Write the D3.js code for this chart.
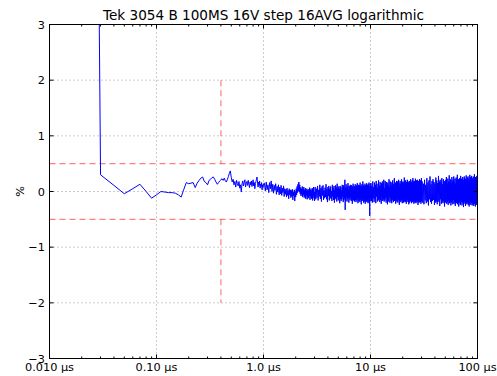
<!DOCTYPE html>
<html>
<head>
<meta charset="utf-8">
<script src="https://cdn.jsdelivr.net/npm/d3@7"></script>
<style>
  body { margin: 0; background: #fff; }
  text { font-family: "DejaVu Sans", sans-serif; fill: #000; }
</style>
</head>
<body>
<div id="chart"></div>
<script>
segStart = [0.02, 1.02, 3.04, 10.1, 30.4];
segStep = [0.01, 0.02, 0.04, 0.1, 0.4];

// 0.02 .. 1.00 µs
segA = [40, 0.30, 0.11, -0.04, 0.05, 0.13, 0.00, -0.12, -0.06, 0.00,
    -0.01, -0.02, -0.02, -0.03, -0.06, -0.10, 0.04, 0.16, 0.14, 0.15,
    0.16, 0.07, 0.15, 0.20, 0.24, 0.26, 0.18, 0.16, 0.12, 0.20,
    0.22, 0.25, 0.26, 0.22, 0.17, 0.13, 0.16, 0.19, 0.21, 0.23,
    0.20, 0.24, 0.19, 0.17, 0.22, 0.27, 0.33, 0.37, 0.25, 0.17,
    0.22, 0.12, 0.18, 0.08, 0.20, 0.14, 0.10, 0.18, 0.06, 0.12,
    -0.01, 0.14, 0.19, 0.10, 0.16, 0.21, 0.08, 0.15, 0.18, 0.11,
    0.20, 0.13, 0.07, 0.17, 0.12, 0.19, 0.09, 0.15, 0.21, 0.10,
    0.16, 0.05, 0.14, 0.18, 0.22, 0.26, 0.15, 0.08, 0.17, 0.11,
    0.19, 0.06, 0.13, 0.09, 0.16, 0.03, 0.12, 0.07, 0.14];

// 1.02 .. 3.00 µs
segB = [0.15, 0.01, 0.17, 0.03, 0.12, -0.02, 0.16, 0.05, 0.19, 0.00,
    0.13, -0.03, 0.11, 0.02, 0.14, -0.05, 0.09, -0.01, 0.12, -0.06,
    0.08, -0.04, 0.11, -0.07, 0.06, -0.02, 0.10, -0.09, 0.05, -0.05,
    0.04, -0.10, 0.06, -0.07, 0.02, -0.13, 0.05, -0.06, 0.03, -0.11,
    0.02, -0.09, 0.04, -0.15, -0.01, -0.08, 0.03, -0.17, 0.00, -0.10,
    0.05, -0.06, 0.09, -0.02, 0.13, 0.01, 0.17, -0.01, 0.12, -0.04,
    0.07, -0.08, 0.05, -0.05, 0.09, -0.10, 0.04, -0.06, 0.08, -0.11,
    0.03, -0.09, 0.06, -0.13, 0.01, -0.07, 0.05, -0.14, 0.02, -0.10,
    0.04, -0.12, 0.00, -0.08, 0.07, -0.15, 0.02, -0.09, 0.05, -0.13,
    0.01, -0.11, 0.06, -0.16, 0.03, -0.08, 0.08, -0.12, -0.01, -0.17];

// 3.04 .. 10.00 µs
segC = [0.08, -0.14, 0.05, -0.11, 0.10, -0.16, 0.03, -0.09, 0.12, -0.13,
    0.06, -0.18, 0.09, -0.07, 0.11, -0.15, 0.02, -0.12, 0.07, -0.10,
    0.13, -0.14, 0.04, -0.19, 0.08, -0.08, 0.10, -0.16, 0.05, -0.11,
    0.09, -0.13, 0.01, -0.17, 0.12, -0.09, 0.06, -0.15, 0.10, -0.20,
    0.03, -0.12, 0.11, -0.14, 0.07, -0.18, 0.14, -0.10, 0.04, -0.16,
    0.09, -0.11, 0.05, -0.21, 0.10, -0.13, 0.08, -0.17, 0.02, -0.14,
    0.12, -0.09, 0.06, -0.19, 0.11, -0.15, 0.04, -0.12, 0.21, -0.33,
    0.08, -0.16, 0.13, -0.10, 0.05, -0.18, 0.09, -0.13, 0.15, -0.11,
    0.03, -0.20, 0.10, -0.12, 0.07, -0.15, 0.12, -0.09, 0.04, -0.17,
    0.11, -0.14, 0.06, -0.22, 0.09, -0.11, 0.14, -0.16, 0.02, -0.13,
    0.10, -0.18, 0.07, -0.10, 0.13, -0.15, 0.05, -0.19, 0.11, -0.12,
    0.08, -0.16, 0.15, -0.13, 0.04, -0.21, 0.09, -0.11, 0.12, -0.17,
    0.06, -0.14, 0.11, -0.19, 0.16, -0.10, 0.03, -0.15, 0.10, -0.23,
    0.07, -0.12, 0.13, -0.17, 0.05, -0.14, 0.18, -0.11, 0.09, -0.20,
    0.12, -0.15, 0.04, -0.18, 0.10, -0.13, 0.14, -0.22, 0.06, -0.10,
    0.11, -0.17, 0.08, -0.12, 0.15, -0.19, 0.07, -0.14, 0.12, -0.16,
    0.05, -0.21, 0.13, -0.11, 0.09, -0.18, 0.16, -0.13, 0.03, -0.15,
    -0.44, 0.10, -0.17, 0.14, -0.12];

// 10.1 .. 30.0 µs
segD = [0.15, -0.17, 0.10, -0.20, 0.18, -0.12, 0.08, -0.19, 0.16, -0.14,
    0.12, -0.21, 0.19, -0.09, 0.14, -0.18, 0.07, -0.16, 0.20, -0.13,
    0.11, -0.19, 0.17, -0.15, 0.09, -0.22, 0.15, -0.10, 0.18, -0.17,
    0.13, -0.14, 0.21, -0.18, 0.06, -0.16, 0.19, -0.12, 0.14, -0.20,
    0.17, -0.11, 0.10, -0.23, 0.16, -0.15, 0.12, -0.18, 0.22, -0.09,
    0.08, -0.20, 0.18, -0.13, 0.15, -0.17, 0.11, -0.21, 0.17, -0.14,
    0.20, -0.16, 0.09, -0.19, 0.14, -0.11, 0.24, -0.17, 0.12, -0.15,
    0.16, -0.22, 0.13, -0.10, 0.19, -0.18, 0.07, -0.14, 0.18, -0.20,
    0.11, -0.16, 0.21, -0.13, 0.15, -0.24, 0.10, -0.17, 0.19, -0.12,
    0.14, -0.19, 0.08, -0.15, 0.22, -0.16, 0.13, -0.21, 0.17, -0.11,
    0.18, -0.14, 0.12, -0.20, 0.16, -0.17, 0.25, -0.13, 0.09, -0.19,
    0.15, -0.18, 0.20, -0.12, 0.11, -0.22, 0.17, -0.15, 0.13, -0.16,
    0.21, -0.11, 0.14, -0.19, 0.18, -0.14, 0.10, -0.23, 0.16, -0.17,
    0.12, -0.20, 0.19, -0.16, 0.15, -0.12, 0.22, -0.18, 0.08, -0.15,
    0.17, -0.21, 0.13, -0.14, 0.20, -0.19, 0.11, -0.16, 0.24, -0.13,
    0.14, -0.17, 0.18, -0.22, 0.12, -0.15, 0.19, -0.11, 0.16, -0.20,
    0.10, -0.18, 0.23, -0.14, 0.15, -0.21, 0.13, -0.16, 0.20, -0.12,
    0.18, -0.19, 0.11, -0.17, 0.21, -0.13, 0.16, -0.24, 0.14, -0.15,
    0.19, -0.16, 0.12, -0.20, 0.17, -0.14, 0.22, -0.18, 0.09, -0.19,
    0.15, -0.13, 0.20, -0.17, 0.13, -0.22, 0.18, -0.15, 0.24, -0.18];

// 30.4 .. 100.0 µs
segE = [0.18, -0.20, 0.14, -0.23, 0.21, -0.16, 0.12, -0.21, 0.24, -0.18,
    0.16, -0.25, 0.20, -0.14, 0.27, -0.19, 0.13, -0.22, 0.19, -0.17,
    0.22, -0.15, 0.17, -0.24, 0.14, -0.20, 0.25, -0.18, 0.20, -0.23,
    0.15, -0.19, 0.28, -0.16, 0.18, -0.26, 0.21, -0.14, 0.17, -0.22,
    0.24, -0.18, 0.13, -0.21, 0.22, -0.17, 0.19, -0.27, 0.16, -0.20,
    0.21, -0.15, 0.26, -0.22, 0.14, -0.19, 0.23, -0.24, 0.18, -0.16,
    0.29, -0.21, 0.17, -0.18, 0.22, -0.25, 0.15, -0.20, 0.26, -0.17,
    0.19, -0.23, 0.21, -0.15, 0.27, -0.22, 0.16, -0.19, 0.23, -0.26,
    0.14, -0.18, 0.25, -0.21, 0.20, -0.16, 0.30, -0.23, 0.17, -0.20,
    0.22, -0.27, 0.18, -0.17, 0.24, -0.21, 0.15, -0.24, 0.28, -0.19,
    0.20, -0.16, 0.23, -0.25, 0.17, -0.20, 0.26, -0.18, 0.21, -0.28,
    0.16, -0.22, 0.27, -0.19, 0.24, -0.17, 0.19, -0.26, 0.22, -0.21,
    0.29, -0.18, 0.18, -0.23, 0.25, -0.20, 0.21, -0.16, 0.27, -0.24,
    0.17, -0.21, 0.23, -0.27, 0.20, -0.18, 0.30, -0.22, 0.19, -0.19,
    0.26, -0.24, 0.16, -0.20, 0.28, -0.17, 0.22, -0.25, 0.24, -0.21,
    0.19, -0.18, 0.27, -0.23, 0.21, -0.26, 0.18, -0.20, 0.31, -0.22,
    0.23, -0.19, 0.20, -0.27, 0.26, -0.21, 0.17, -0.24, 0.25, -0.18,
    0.28, -0.23, 0.22, -0.20, 0.26];

segValues = [segA, segB, segC, segD, segE];

// Limit lines (red dashed)
limitLevels = [0.5, -0.5];
markerT = 0.4;
markerSpans = [[0.5, 2], [-2, -0.5]];

xTicks = [0.01, 0.1, 1, 10, 100];
xTickLabels = ["0.010 µs", "0.10 µs", "1.0 µs", "10 µs", "100 µs"];
yTicks = [-3, -2, -1, 0, 1, 2, 3];

titleText = "Tek 3054 B 100MS 16V step 16AVG logarithmic";

width = 497;
height = 376;
margin = ({top: 24.5, right: 19.5, bottom: 17.5, left: 49.5});

buildTrace = function() {
    const pts = [];
    segValues.forEach((vals, s) => {
        vals.forEach((v, i) => {
            pts.push({t: +(segStart[s] + i * segStep[s]).toFixed(4), v: v});
        });
    });
    return pts;
};

createBoard = function(selector) {
    const svg = d3.select(selector).append("svg")
        .attr("width", width)
        .attr("height", height);

    const x = d3.scaleLog()
        .domain([0.01, 100])
        .range([margin.left, width - margin.right]);
    const y = d3.scaleLinear()
        .domain([-3, 3])
        .range([height - margin.bottom, margin.top]);

    const x0 = margin.left, x1 = width - margin.right;
    const y0 = height - margin.bottom, y1 = margin.top;

    svg.append("clipPath").attr("id", "plot-clip")
        .append("rect")
        .attr("x", x0).attr("y", y1)
        .attr("width", x1 - x0).attr("height", y0 - y1);

    // Grid (dotted, major ticks only)
    const grid = svg.append("g")
        .attr("stroke", "#000")
        .attr("stroke-opacity", 0.5)
        .attr("stroke-width", 0.8)
        .attr("stroke-dasharray", "1,3");
    grid.selectAll("line.gx")
        .data(xTicks.slice(1, -1))
        .join("line")
        .attr("x1", d => x(d)).attr("x2", d => x(d))
        .attr("y1", y1).attr("y2", y0);
    grid.selectAll("line.gy")
        .data(yTicks.slice(1, -1))
        .join("line")
        .attr("class", "gy")
        .attr("x1", x0).attr("x2", x1)
        .attr("y1", d => y(d)).attr("y2", d => y(d));

    // Red dashed limits
    const limits = svg.append("g")
        .attr("stroke", "#ff0000")
        .attr("stroke-opacity", 0.5)
        .attr("stroke-width", 1.2)
        .attr("stroke-dasharray", "6,4");
    limits.selectAll("line.h")
        .data(limitLevels)
        .join("line")
        .attr("x1", x0).attr("x2", x1)
        .attr("y1", d => y(d)).attr("y2", d => y(d));
    limits.selectAll("line.v")
        .data(markerSpans)
        .join("line")
        .attr("class", "v")
        .attr("x1", x(markerT)).attr("x2", x(markerT))
        .attr("y1", d => y(d[1])).attr("y2", d => y(d[0]));

    // Trace
    const line = d3.line()
        .x(d => x(d.t))
        .y(d => y(d.v));
    svg.append("path")
        .datum(buildTrace())
        .attr("clip-path", "url(#plot-clip)")
        .attr("fill", "none")
        .attr("stroke", "#0000ff")
        .attr("stroke-width", 1)
        .attr("stroke-linejoin", "round")
        .attr("d", line);

    // Ticks, inside, on all four sides
    const minor = [];
    for (let e = -2; e < 2; e++) {
        for (let m = 2; m <= 9; m++) minor.push(m * Math.pow(10, e));
    }
    const ticks = svg.append("g").attr("stroke", "#000").attr("stroke-width", 1);
    [y0, y1].forEach(yy => {
        const dir = yy === y0 ? -1 : 1;
        ticks.append("g").selectAll("line")
            .data(xTicks).join("line")
            .attr("x1", d => x(d)).attr("x2", d => x(d))
            .attr("y1", yy).attr("y2", yy + dir * 4);
        ticks.append("g").selectAll("line")
            .data(minor).join("line")
            .attr("x1", d => x(d)).attr("x2", d => x(d))
            .attr("y1", yy).attr("y2", yy + dir * 2);
    });
    [x0, x1].forEach(xx => {
        const dir = xx === x0 ? 1 : -1;
        ticks.append("g").selectAll("line")
            .data(yTicks).join("line")
            .attr("x1", xx).attr("x2", xx + dir * 4)
            .attr("y1", d => y(d)).attr("y2", d => y(d));
    });

    // Frame
    svg.append("rect")
        .attr("x", x0).attr("y", y1)
        .attr("width", x1 - x0).attr("height", y0 - y1)
        .attr("fill", "none")
        .attr("stroke", "#000")
        .attr("stroke-width", 1);

    // Tick labels
    svg.append("g")
        .attr("font-size", 11.3)
        .attr("text-anchor", "middle")
        .selectAll("text")
        .data(xTicks)
        .join("text")
        .attr("x", d => x(d))
        .attr("y", y0 + 12)
        .text((d, i) => xTickLabels[i]);

    svg.append("g")
        .attr("font-size", 11.3)
        .attr("text-anchor", "end")
        .selectAll("text")
        .data(yTicks)
        .join("text")
        .attr("x", x0 - 4.5)
        .attr("y", d => y(d))
        .attr("dy", "0.36em")
        .text(d => d < 0 ? "\u2212" + Math.abs(d) : String(d));

    // Axis label and title
    svg.append("text")
        .attr("transform", `translate(24,${y(0)}) rotate(-90)`)
        .attr("text-anchor", "middle")
        .attr("font-size", 11.3)
        .text("%");

    svg.append("text")
        .attr("x", (x0 + x1) / 2)
        .attr("y", 19.5)
        .attr("text-anchor", "middle")
        .attr("font-size", 13.6)
        .text(titleText);
};

createBoard("#chart");
</script>
</body>
</html>
